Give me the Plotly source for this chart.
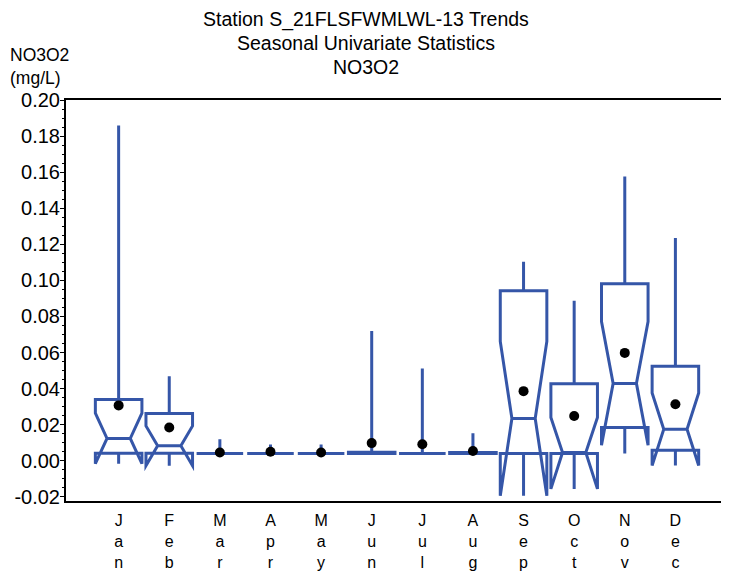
import plotly.graph_objects as go

months = ["Jan", "Feb", "Mar", "Apr", "May", "Jun", "Jul", "Aug", "Sep", "Oct", "Nov", "Dec"]
q1 = [0.0042, 0.0042, 0.0040, 0.0040, 0.0040, 0.0040, 0.0040, 0.0040, 0.0041, 0.0040, 0.0184, 0.0059]
median = [0.0124, 0.0083, 0.0040, 0.0040, 0.0040, 0.0040, 0.0040, 0.0040, 0.0234, 0.0042, 0.0429, 0.0175]
q3 = [0.0340, 0.0262, 0.0040, 0.0040, 0.0040, 0.0047, 0.0040, 0.0046, 0.0942, 0.0427, 0.0981, 0.0524]
lowerfence = [0.0042, 0.0042, 0.0040, 0.0040, 0.0040, 0.0040, 0.0040, 0.0040, 0.0041, 0.0040, 0.0040, 0.0040]
upperfence = [0.1858, 0.0469, 0.0120, 0.0090, 0.0090, 0.0719, 0.0511, 0.0153, 0.1104, 0.0887, 0.1576, 0.1235]
notchspan = [0.0140, 0.0110, 0.0, 0.0, 0.0, 0.0, 0.0, 0.0, 0.0428, 0.0198, 0.0343, 0.0201]
means = [0.0307, 0.0184, 0.0046, 0.0050, 0.0046, 0.0098, 0.0092, 0.0054, 0.0386, 0.0248, 0.0598, 0.0313]

ytickvals = [-0.02, 0.00, 0.02, 0.04, 0.06, 0.08, 0.10, 0.12, 0.14, 0.16, 0.18, 0.20]
yticktext = ["-0.02", "0.00", "0.02", "0.04", "0.06", "0.08", "0.10", "0.12", "0.14", "0.16", "0.18", "0.20"]
xticktext = ["<br>".join(m) for m in months]

title_lines = ["Station S_21FLSFWMLWL-13 Trends", "Seasonal Univariate Statistics", "NO3O2"]
ytitle_text = "NO3O2<br>(mg/L)"

BLUE = "#3556A8"
FONT = "Liberation Sans, Arial, sans-serif"

fig = go.Figure()
fig.add_trace(go.Box(
    x=months, q1=q1, median=median, q3=q3,
    lowerfence=lowerfence, upperfence=upperfence, notchspan=notchspan,
    notched=True, notchwidth=0.25, boxpoints=False, whiskerwidth=0,
    width=0.92, fillcolor="rgba(0,0,0,0)",
    line=dict(color=BLUE, width=3), showlegend=False, hoverinfo="skip",
))
fig.add_trace(go.Scatter(
    x=months, y=means, mode="markers",
    marker=dict(color="black", size=10), showlegend=False,
))

# page has an 8px body margin: compensate so page coordinates match the reference
OFF = 8
PAGE_L, PAGE_R, PAGE_T, PAGE_B = 66, 727, 100, 502
W, H = 729 - OFF, 573 - OFF
L = PAGE_L - OFF
T = PAGE_T - OFF
R = W - (PAGE_R - OFF)
B = H - (PAGE_B - OFF)
pw = PAGE_R - PAGE_L

def px_to_paper_x(px):
    return (px - PAGE_L) / pw

annotations = []
for i, t in enumerate(title_lines):
    annotations.append(dict(
        text=t, xref="paper", yref="paper", x=px_to_paper_x(367), y=1,
        xanchor="center", yanchor="middle", yshift=PAGE_T - (19 + 24 * i),
        showarrow=False, font=dict(size=19.5, color="black", family=FONT)))
annotations.append(dict(
    text=ytitle_text, xref="paper", yref="paper", x=px_to_paper_x(8), y=1,
    xanchor="left", yanchor="middle", yshift=PAGE_T - 66, align="left",
    showarrow=False, font=dict(size=17.5, color="black", family=FONT)))

fig.update_layout(
    width=W, height=H,
    margin=dict(l=L, r=R, t=T, b=B, pad=0),
    paper_bgcolor="white", plot_bgcolor="white",
    boxmode="overlay",
    font=dict(family=FONT, color="black"),
    annotations=annotations,
    xaxis=dict(
        type="category", range=[-1.04, 11.98],
        tickvals=months, ticktext=xticktext, ticks="",
        tickfont=dict(size=16, color="black"), ticklabelstandoff=4,
        showgrid=False, zeroline=False,
        showline=True, linecolor="black", linewidth=2, mirror=True,
    ),
    yaxis=dict(
        range=[-0.0223, 0.20],
        tickvals=ytickvals, ticktext=yticktext,
        ticks="outside", ticklen=4, tickwidth=1, tickcolor="black",
        tickfont=dict(size=20, color="black"), ticklabelstandoff=-4,
        minor=dict(dtick=0.005, ticks="outside", ticklen=2, tickcolor="black"),
        showgrid=False, zeroline=False,
        showline=True, linecolor="black", linewidth=2, mirror=True,
    ),
)

fig.write_html("out.html")
